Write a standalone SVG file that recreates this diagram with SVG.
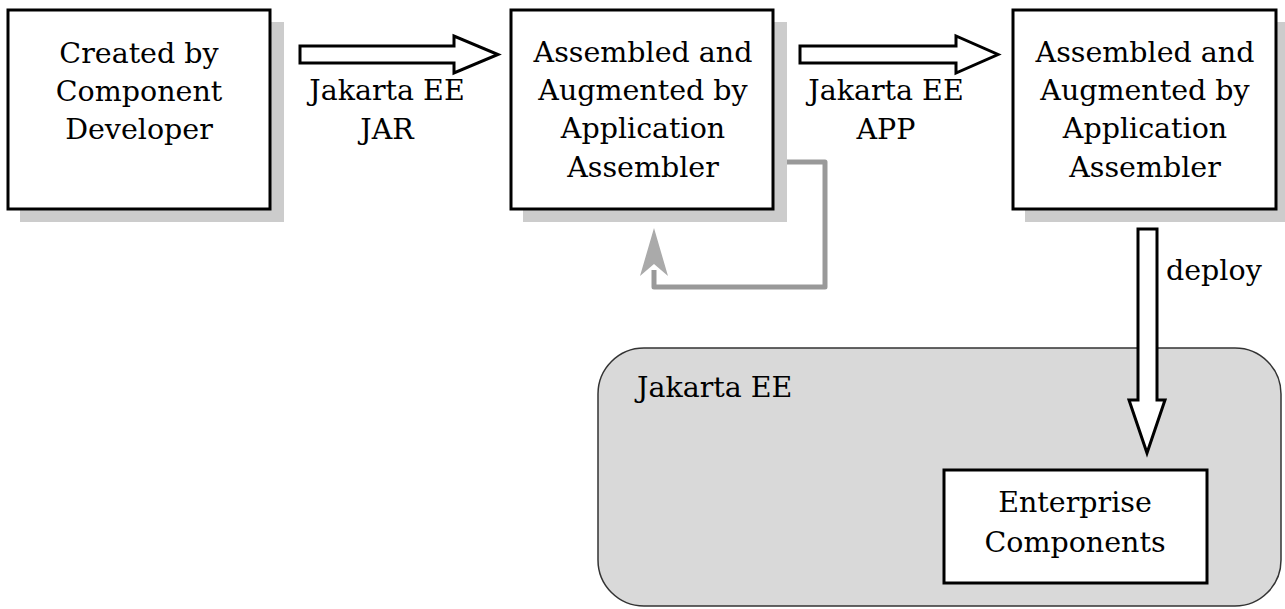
<svg xmlns="http://www.w3.org/2000/svg" width="1285" height="609" viewBox="0 0 1285 609">
<style>
.box{fill:#fff;stroke:#000;stroke-width:3}
.shadow{fill:#cccccc}
.t{font-family:"DejaVu Serif","Liberation Serif",serif;font-size:28.5px;fill:#000;text-anchor:middle}
.big{fill:#fff;stroke:#000;stroke-width:3;stroke-linejoin:miter}
</style>
<rect x="0" y="0" width="1285" height="609" fill="#fff"/>
<g id="container">
<rect x="598" y="348" width="683" height="258" rx="46" ry="46" fill="#d9d9d9" stroke="#333" stroke-width="1.5"/>
<text x="637" y="397" class="t" style="text-anchor:start">Jakarta EE</text>
</g>
<g id="node1">
<rect x="20" y="22" width="264" height="200" class="shadow"/>
<rect x="8" y="10" width="262" height="199" class="box"/>
<text class="t"><tspan x="139" y="63">Created by</tspan><tspan x="139" y="101">Component</tspan><tspan x="139" y="139">Developer</tspan></text>
</g>
<g id="node2">
<rect x="523" y="22" width="264" height="200" class="shadow"/>
<rect x="511" y="10" width="262" height="199" class="box"/>
<text class="t"><tspan x="643" y="62">Assembled and</tspan><tspan x="643" y="100">Augmented by</tspan><tspan x="643" y="138">Application</tspan><tspan x="643" y="177">Assembler</tspan></text>
</g>
<g id="node3">
<rect x="1025" y="22" width="264" height="200" class="shadow"/>
<rect x="1013" y="10" width="263" height="199" class="box"/>
<text class="t"><tspan x="1145" y="62">Assembled and</tspan><tspan x="1145" y="100">Augmented by</tspan><tspan x="1145" y="138">Application</tspan><tspan x="1145" y="177">Assembler</tspan></text>
</g>
<g id="node4">
<rect x="944" y="470" width="263" height="113" class="box"/>
<text class="t"><tspan x="1075" y="512">Enterprise</tspan><tspan x="1075" y="552">Components</tspan></text>
</g>
<g id="connectors">
<path d="M300,46 L454,46 L454,36 L498,54.5 L454,73 L454,63 L300,63 Z" class="big"/>
<text class="t"><tspan x="387" y="100">Jakarta EE</tspan><tspan x="387" y="139">JAR</tspan></text>
<path d="M800,46 L956,46 L956,36 L998,54.5 L956,73 L956,63 L800,63 Z" class="big"/>
<text class="t"><tspan x="886" y="100">Jakarta EE</tspan><tspan x="886" y="139">APP</tspan></text>
<path d="M787,162 L825,162 L825,287 L654,287 L654,270" fill="none" stroke="#999" stroke-width="5" stroke-linejoin="round"/>
<path d="M654,228 L668,276 L654,264 L640,276 Z" fill="#aaaaaa"/>
<path d="M1138,229 L1157,229 L1157,400 L1165,400 L1147,453 L1129,400 L1138,400 Z" class="big"/>
<text x="1166" y="280" class="t" style="text-anchor:start">deploy</text>
</g>
</svg>
